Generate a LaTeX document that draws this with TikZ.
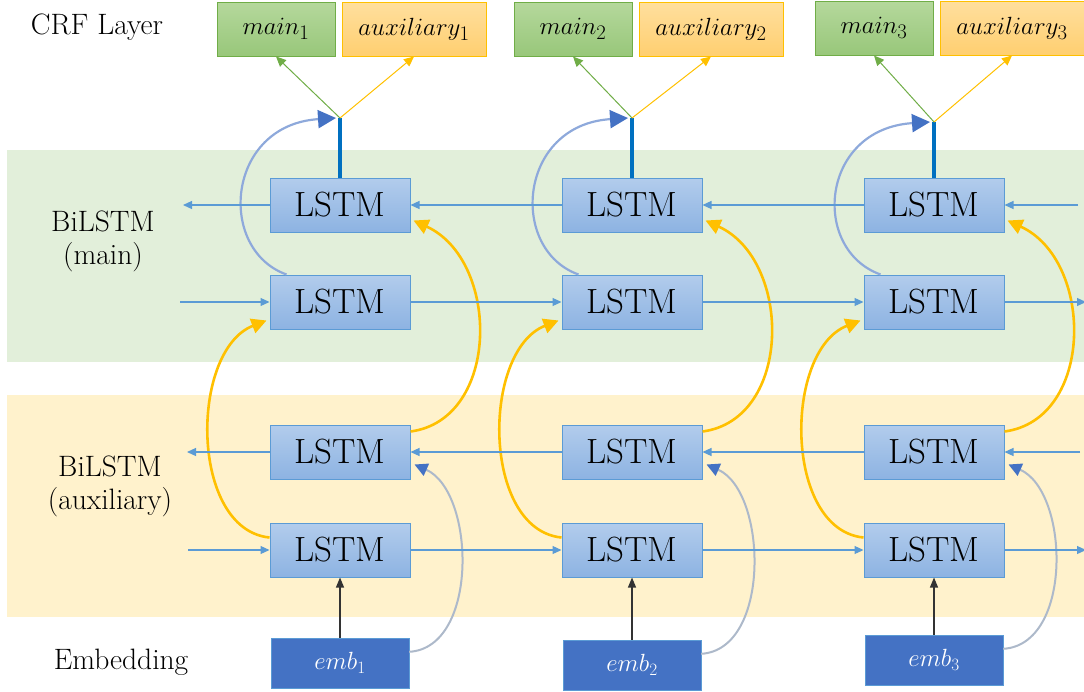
\documentclass[tikz,border=0pt]{standalone}
\usepackage{fontspec}
\usetikzlibrary{arrows.meta,calc}

\definecolor{bandgreen}{HTML}{E2EFDA}
\definecolor{bandyellow}{HTML}{FFF2CC}
\definecolor{lstmtop}{HTML}{B2CCEC}
\definecolor{lstmbot}{HTML}{8DB3E2}
\definecolor{lstmline}{HTML}{5B9BD5}
\definecolor{embfill}{HTML}{4472C4}
\definecolor{crfgreentop}{HTML}{B5D89C}
\definecolor{crfgreenbot}{HTML}{98C77A}
\definecolor{crfgreenline}{HTML}{70AD47}
\definecolor{crfyellowtop}{HTML}{FFDF9E}
\definecolor{crfyellowbot}{HTML}{FFCF70}
\definecolor{goldline}{HTML}{FFC000}
\definecolor{outblue}{HTML}{0070C0}
\definecolor{skipblue}{HTML}{8EA9DB}
\definecolor{skipgrey}{HTML}{ADB9CA}

\tikzset{
  lstm/.style={draw=lstmline, line width=1pt, top color=lstmtop, bottom color=lstmbot,
    minimum width=140pt, minimum height=54pt, inner sep=0pt,
    font=\rmfamily\fontsize{35}{38}\selectfont},
  embbox/.style={draw=lstmline, fill=embfill, text=white, minimum width=138pt,
    minimum height=50pt, inner sep=0pt, font=\fontsize{27}{30}\selectfont},
  crfmain/.style={draw=crfgreenline, line width=1pt, top color=crfgreentop, bottom color=crfgreenbot,
    minimum width=118pt, minimum height=54pt, inner sep=0pt, font=\fontsize{31}{33}\selectfont},
  crfaux/.style={draw=goldline, line width=1pt, top color=crfyellowtop, bottom color=crfyellowbot,
    minimum width=144pt, minimum height=54pt, inner sep=0pt, font=\fontsize{29}{31}\selectfont},
  sidelabel/.style={align=center, font=\rmfamily\fontsize{29.5}{33}\selectfont},
  flow/.style={draw=lstmline, line width=1.2pt, -{Triangle[length=9pt,width=8pt]}},
  outstem/.style={draw=outblue, line width=4pt},
  tomain/.style={draw=crfgreenline, line width=1pt, -{Triangle[length=10pt,width=9pt]}},
  toaux/.style={draw=goldline, line width=1pt, -{Triangle[length=10pt,width=9pt]}},
  cross/.style={draw=goldline, line width=2.6pt, -{Triangle[length=15pt,width=15pt]}},
  skip/.style={draw=skipblue, line width=2.2pt, -{Triangle[length=18pt,width=18pt,color=embfill]}},
  embskip/.style={draw=skipgrey, line width=2pt, -{Triangle[length=13pt,width=13pt,color=embfill]}},
  embin/.style={draw=black!80, line width=1.1pt, -{Triangle[length=10pt,width=8pt]}},
}

\begin{document}
\begin{tikzpicture}[x=1pt,y=-1pt]
\useasboundingbox (0,0) rectangle (1084,691);

% layer bands
\fill[bandgreen] (7,150) rectangle (1084,362);
\fill[bandyellow] (7,395) rectangle (1084,617);

% layer captions
\node[sidelabel] (lcrf) at (97,27) {CRF Layer};
\node[sidelabel] (lmain) at (103,241) {BiLSTM\\(main)};
\node[sidelabel] (laux) at (110,486) {BiLSTM\\(auxiliary)};
\node[sidelabel] (lemb) at (121,662) {Embedding};

% columns: index / x of LSTM column / x main box / x aux box / y top boxes / y junction / y emb
\foreach \i/\x/\xm/\xa/\yt/\yj/\ye in {1/340/276/414/29/118/663, 2/632/573/711/29/118/665, 3/934/874/1012/28/122/660}{
  \node[lstm] (mt\i) at (\x,205) {LSTM};
  \node[lstm] (mb\i) at (\x,302) {LSTM};
  \node[lstm] (at\i) at (\x,452) {LSTM};
  \node[lstm] (ab\i) at (\x,550) {LSTM};
  \node[embbox] (e\i) at (\x,\ye) {$emb_{\i}$};
  \node[crfmain] (cm\i) at (\xm,\yt) {$main_{\i}$};
  \node[crfaux] (ca\i) at (\xa,\yt) {$auxiliary_{\i}$};
  \coordinate (j\i) at (\x,\yj);

  % output of the main BiLSTM feeds both CRF heads
  \draw[outstem] (mt\i.north) -- (j\i);
  \draw[tomain] (j\i) -- (cm\i.south);
  \draw[toaux] (j\i) -- (ca\i.south);

  % skip connection from the forward main LSTM to the output
  \draw[skip] ($(mb\i.north west)+(17,0)$) .. controls +(-70,-25) and +(-110,7) .. ($(j\i)+(-4,0)$);

  % auxiliary states passed up into the main BiLSTM
  \draw[cross] ($(at\i.north east)+(0,7)$) .. controls +(90,-12) and +(87,40) .. ($(mt\i.south east)+(3,-12)$);
  \draw[cross] ($(ab\i.north west)+(0,15)$) .. controls +(-80,-8) and +(-77,30) .. ($(mb\i.south west)+(-3,-9)$);

  % embedding into both directions of the auxiliary BiLSTM
  \draw[embin] (e\i.north) -- (ab\i.south);
  \draw[embskip] ($(e\i.north east)+(0,14)$) .. controls +(70,-4) and +(61,27) .. ($(at\i.south east)+(4,-15)$);
}

% free ends of the recurrent chains
\coordinate (mtL) at (183,205);
\coordinate (mtR) at (1078,205);
\coordinate (mbL) at (180,302);
\coordinate (mbR) at (1086,302);
\coordinate (atL) at (187,452);
\coordinate (atR) at (1080,452);
\coordinate (abL) at (188,550);
\coordinate (abR) at (1086,550);

% backward chains (right to left)
\draw[flow] (mt1.west) -- (mtL);
\draw[flow] (mt2.west) -- (mt1.east);
\draw[flow] (mt3.west) -- (mt2.east);
\draw[flow] (mtR) -- (mt3.east);
\draw[flow] (at1.west) -- (atL);
\draw[flow] (at2.west) -- (at1.east);
\draw[flow] (at3.west) -- (at2.east);
\draw[flow] (atR) -- (at3.east);

% forward chains (left to right)
\draw[flow] (mbL) -- (mb1.west);
\draw[flow] (mb1.east) -- (mb2.west);
\draw[flow] (mb2.east) -- (mb3.west);
\draw[flow] (mb3.east) -- (mbR);
\draw[flow] (abL) -- (ab1.west);
\draw[flow] (ab1.east) -- (ab2.west);
\draw[flow] (ab2.east) -- (ab3.west);
\draw[flow] (ab3.east) -- (abR);
\end{tikzpicture}
\end{document}
